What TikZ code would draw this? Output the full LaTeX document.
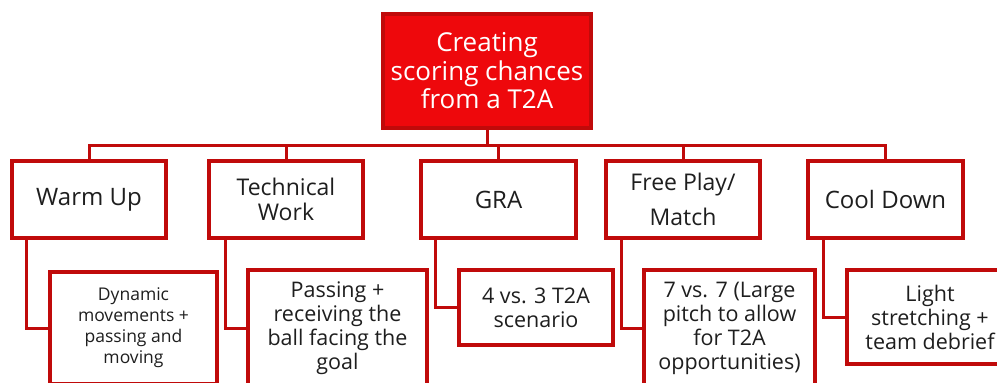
\documentclass[tikz,border=0pt]{standalone}
\usepackage{fontspec}
\setmainfont{Open Sans}
\definecolor{lineRed}{RGB}{192,10,10}
\definecolor{fillRed}{RGB}{238,8,12}
\definecolor{txt}{RGB}{30,30,30}
\tikzset{
  box/.style={draw=lineRed, line width=3.2pt, fill=white, align=center, text=txt, inner sep=2pt},
  topbox/.style={box, fill=fillRed, text=white},
  conn/.style={draw=lineRed, line width=3pt},
  big/.style={font=\fontsize{24}{29}\selectfont},
  mid/.style={font=\fontsize{21.5}{24}\selectfont},
  small/.style={font=\fontsize{17.5}{21}\selectfont}
}
\begin{document}
\begin{tikzpicture}[x=1pt,y=-1pt]
\useasboundingbox (0,0) rectangle (997,383);
\clip (0,0) rectangle (997,383);
\coordinate (bus) at (0,145);
% top
\node[topbox, minimum width=208pt, minimum height=114pt, font=\fontsize{26}{28.5}\selectfont] (top) at (487,71) {Creating\\scoring chances\\from a T2A};
% level 1
\node[box, big, minimum width=154pt, minimum height=77pt] (warm) at (89,199.5) {Warm Up};
\node[box, minimum width=154pt, minimum height=77pt, font=\fontsize{23}{25}\selectfont] (tech) at (286,199.5) {Technical\\Work};
\node[box, big, minimum width=155pt, minimum height=77pt] (gra) at (498.5,199.5) {GRA};
\node[box, minimum width=154pt, minimum height=77pt, font=\fontsize{23}{35}\selectfont] (free) at (683,199.5) {Free Play/\\Match};
\node[box, big, minimum width=155pt, minimum height=77pt] (cool) at (885.5,199.5) {Cool Down};
% level 2
\node[box, small, minimum width=167pt, minimum height=112pt] (warmsub) at (133.5,328) {Dynamic\\movements +\\passing and\\moving};
\node[box, mid, minimum width=179pt, minimum height=116pt] (techsub) at (337.5,328) {Passing +\\receiving the\\ball facing the\\goal};
\node[box, mid, minimum width=154pt, minimum height=75pt] (grasub) at (536,307.5) {4 vs. 3 T2A\\scenario};
\node[box, mid, minimum width=171pt, minimum height=116pt] (freesub) at (729.5,328) {7 vs. 7 (Large\\pitch to allow\\for T2A\\opportunities)};
\node[box, mid, minimum width=166pt, minimum height=94pt] (coolsub) at (930,317) {Light\\stretching +\\team debrief};
% connectors
\draw[conn] (top.south) -- (top.south |- bus);
\draw[conn] (warm.north) -- (warm.north |- bus) -- (cool.north |- bus) -- (cool.north);
\draw[conn] (tech.north) -- (tech.north |- bus);
\draw[conn] (gra.north) -- (gra.north |- bus);
\draw[conn] (free.north) -- (free.north |- bus);
\draw[conn] ([xshift=16pt]warm.south west) |- (warmsub.west);
\draw[conn] ([xshift=18pt]tech.south west) |- (techsub.west);
\draw[conn] ([xshift=16pt]gra.south west) |- (grasub.west);
\draw[conn] ([xshift=17pt]free.south west) |- (freesub.west);
\draw[conn] ([xshift=17pt]cool.south west) |- (coolsub.west);
\end{tikzpicture}
\end{document}
